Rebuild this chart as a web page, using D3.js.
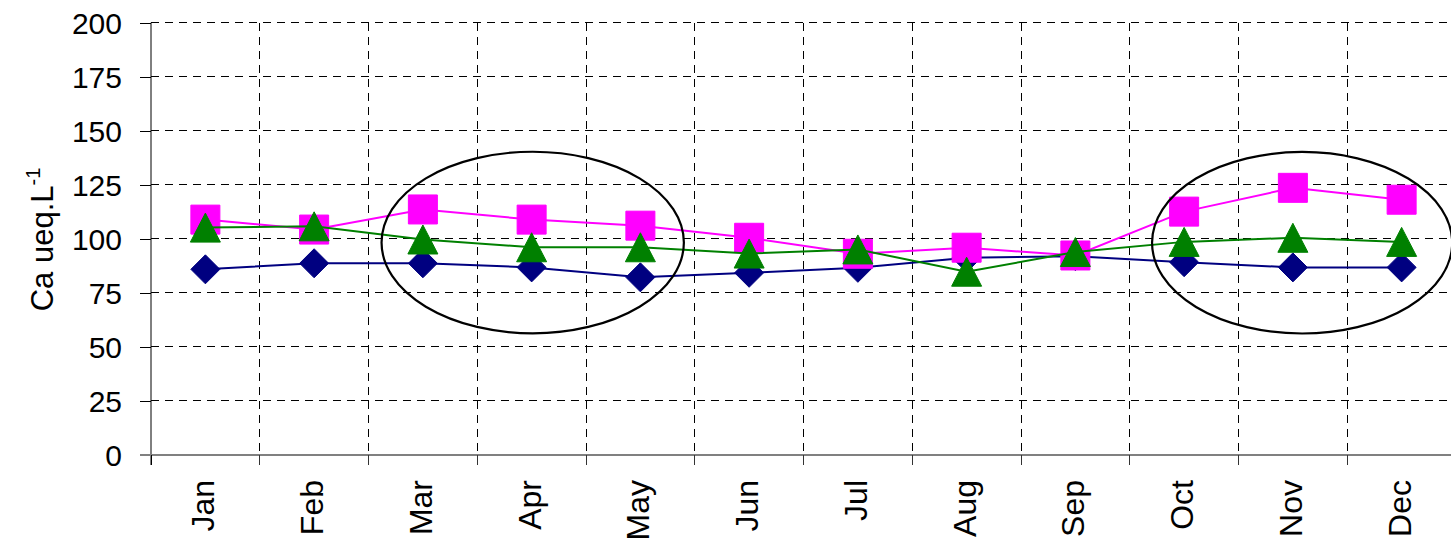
<!DOCTYPE html>
<html>
<head>
<meta charset="utf-8">
<script src="https://cdn.jsdelivr.net/npm/d3@7/dist/d3.min.js"></script>
<style>
  html, body { margin: 0; padding: 0; background: #fff; }
  svg { display: block; }
  text { font-family: "Liberation Sans", Arial, sans-serif; fill: #000; }
</style>
</head>
<body>
<svg id="chart" width="1451" height="540"></svg>
<script>
// ---------- data ----------
const months = ["Jan","Feb","Mar","Apr","May","Jun","Jul","Aug","Sep","Oct","Nov","Dec"];
const seriesBlue    = [85.9, 88.7, 88.7, 86.8, 82.2, 84.3, 86.6, 91.2, 92.0, 89.2, 86.8, 86.8];
const seriesMagenta = [108.9, 104.3, 113.6, 108.9, 106.1, 100.5, 93.1, 95.9, 92.3, 112.6, 123.6, 118.1];
const seriesGreen   = [105.2, 105.8, 99.7, 96.1, 96.1, 93.2, 95.1, 84.8, 93.9, 98.6, 100.5, 98.6];
const yTicks = [0, 25, 50, 75, 100, 125, 150, 175, 200];
const yTitle = "Ca ueq.L";
const yTitleSup = "-1";
// highlighted periods (ellipses): centre month, centre value
const highlightMonths = ["Apr", "Nov"];
const highlightValues = [98.3, 98.2];

// ---------- layout ----------
const plotLeft = 151, plotTop = 22.7, plotBottom = 455;
const band = 108.75;
const plotRight = plotLeft + band * months.length;

const svg = d3.select("#chart");
const x = d3.scaleBand().domain(months).range([plotLeft, plotRight]).padding(0);
const y = d3.scaleLinear().domain([0, 200]).range([plotBottom, plotTop]);

// horizontal gridlines (dashed)
const gGrid = svg.append("g");
gGrid.selectAll("line.h").data(yTicks.filter(d => d > 0)).enter().append("line")
  .attr("class", "h")
  .attr("x1", plotLeft).attr("x2", plotRight)
  .attr("y1", d => y(d)).attr("y2", d => y(d))
  .attr("stroke", "#000").attr("stroke-width", 1)
  .attr("stroke-dasharray", "8,6").attr("shape-rendering", "crispEdges");
// vertical gridlines at category boundaries
const boundaries = months.slice(1).map(m => x(m));
gGrid.selectAll("line.v").data(boundaries).enter().append("line")
  .attr("class", "v")
  .attr("x1", d => d).attr("x2", d => d)
  .attr("y1", plotTop).attr("y2", plotBottom)
  .attr("stroke", "#000").attr("stroke-width", 1)
  .attr("stroke-dasharray", "8,6").attr("shape-rendering", "crispEdges");

// y axis
const yAxis = d3.axisLeft(y).tickValues(yTicks).tickSize(11).tickPadding(18);
const gy = svg.append("g").attr("transform", `translate(${plotLeft},0)`).call(yAxis);
gy.select(".domain").attr("stroke", "#000").attr("d", `M0,${plotTop}V${plotBottom + 10}`);
gy.selectAll(".tick line").attr("stroke", "#000").attr("shape-rendering", "crispEdges");
gy.selectAll(".tick text")
  .attr("font-size", 30).attr("font-family", "Liberation Sans, Arial, sans-serif")
  .attr("fill", "#000").attr("dy", "0.36em");

// x axis
const xAxis = d3.axisBottom(x).tickSize(0).tickFormat("");
const gx = svg.append("g").attr("transform", `translate(0,${plotBottom})`).call(xAxis);
gx.select(".domain").attr("stroke", "#808080").attr("stroke-width", 2).attr("d", `M${plotLeft - 11},0H${plotRight}`);
gx.selectAll(".tick").remove();
svg.append("g").selectAll("line").data([plotLeft].concat(boundaries)).enter().append("line")
  .attr("x1", d => d).attr("x2", d => d)
  .attr("y1", plotBottom).attr("y2", plotBottom + 10)
  .attr("stroke", (d, i) => i === 0 ? "#000" : "#333").attr("stroke-width", 1)
  .attr("shape-rendering", "crispEdges");

// month labels (rotated)
svg.append("g").selectAll("text").data(months).enter().append("text")
  .attr("transform", d => `translate(${x(d) + x.bandwidth() / 2},480) rotate(-90)`)
  .attr("text-anchor", "end")
  .attr("dy", 9)
  .attr("font-size", 32)
  .text(d => d);

// y title
const yt = svg.append("text")
  .attr("transform", `translate(53,239.5) rotate(-90)`)
  .attr("text-anchor", "middle")
  .attr("font-size", 31);
yt.append("tspan").text(yTitle);
yt.append("tspan").attr("font-size", 20).attr("dy", -13).text(yTitleSup);

// ---------- series ----------
const cx = (i) => x(months[i]) + x.bandwidth() / 2;
const line = d3.line().x((d, i) => cx(i)).y(d => y(d));

function drawSeries(values, color, marker) {
  const g = svg.append("g");
  g.append("path").datum(values).attr("d", line)
    .attr("fill", "none").attr("stroke", color).attr("stroke-width", 2);
  const sz = 29, h = sz / 2;
  let shape;
  if (marker === "diamond") shape = `M0,${-h}L${h},0L0,${h}L${-h},0Z`;
  else if (marker === "square") shape = `M${-h},${-h}H${h}V${h}H${-h}Z`;
  else shape = `M0,${-h}L${h + 0.5},${h}L${-h - 0.5},${h}Z`;
  g.selectAll("path.m").data(values).enter().append("path")
    .attr("class", "m")
    .attr("transform", (d, i) => `translate(${cx(i)},${y(d)})`)
    .attr("d", shape).attr("fill", color).attr("stroke", color).attr("stroke-width", 1);
}
drawSeries(seriesBlue, "#000080", "diamond");
drawSeries(seriesMagenta, "#FF00FF", "square");
drawSeries(seriesGreen, "#008000", "triangle");

// ---------- highlight ellipses ----------
const ellipseHalfBands = [1.39, 1.38];
const ellipseHalfValues = [42, 42];
const ellipseShiftBands = [0.01, 0.085];
svg.append("g").selectAll("ellipse").data(highlightMonths).enter().append("ellipse")
  .attr("cx", (d, i) => x(d) + x.bandwidth() / 2 + ellipseShiftBands[i] * x.bandwidth())
  .attr("cy", (d, i) => y(highlightValues[i]))
  .attr("rx", (d, i) => ellipseHalfBands[i] * x.bandwidth())
  .attr("ry", (d, i) => y(0) - y(ellipseHalfValues[i]))
  .attr("fill", "none").attr("stroke", "#000").attr("stroke-width", 2.2);
</script>
</body>
</html>
